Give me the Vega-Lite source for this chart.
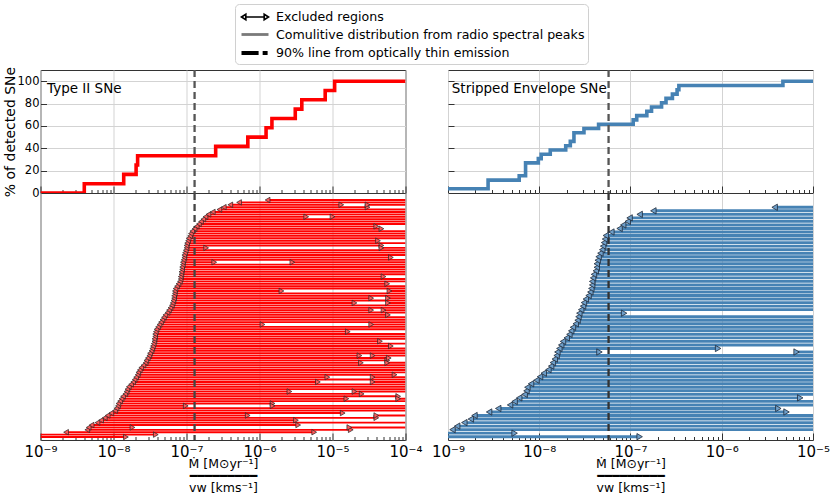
{
  "$schema": "https://vega.github.io/schema/vega-lite/v6.json",
  "padding": {"left": 2.5, "top": 3, "right": 5, "bottom": 0},
  "datasets": {
    "cumII": [
      {"x": 1e-9, "p": 0}, {"x": 3.98e-9, "p": 8.33}, {"x": 1.38e-8, "p": 16.67}, {"x": 2.04e-8, "p": 25},
      {"x": 2.14e-8, "p": 33.33}, {"x": 2.51e-7, "p": 41.67}, {"x": 6.92e-7, "p": 50}, {"x": 1.23e-6, "p": 58.33},
      {"x": 1.48e-6, "p": 66.67}, {"x": 3.09e-6, "p": 75}, {"x": 3.8e-6, "p": 83.33}, {"x": 7.94e-6, "p": 91.67},
      {"x": 1.07e-5, "p": 100}, {"x": 1e-4, "p": 100}
    ],
    "cumSE": [
      {"x": 1e-9, "p": 3.85}, {"x": 2.75e-9, "p": 11.54}, {"x": 6.03e-9, "p": 15.38}, {"x": 7.08e-9, "p": 26.92},
      {"x": 9.77e-9, "p": 30.77}, {"x": 1.05e-8, "p": 34.62}, {"x": 1.32e-8, "p": 38.46}, {"x": 1.95e-8, "p": 42.31},
      {"x": 2.19e-8, "p": 46.15}, {"x": 2.4e-8, "p": 53.85}, {"x": 3.09e-8, "p": 57.69}, {"x": 4.47e-8, "p": 61.54},
      {"x": 1.07e-7, "p": 65.38}, {"x": 1.17e-7, "p": 69.23}, {"x": 1.51e-7, "p": 73.08}, {"x": 1.7e-7, "p": 76.92},
      {"x": 2.19e-7, "p": 80.77}, {"x": 2.45e-7, "p": 84.62}, {"x": 2.88e-7, "p": 88.46}, {"x": 3.24e-7, "p": 92.31},
      {"x": 3.39e-7, "p": 96.15}, {"x": 4.68e-6, "p": 100}, {"x": 1e-5, "p": 100}
    ],
    "thin": [{"set": "II", "v": 1.29e-7}, {"set": "SE", "v": 5.75e-8}],
    "legend": [
      {"k": "Excluded regions"},
      {"k": "Comulitive distribution from radio spectral peaks"},
      {"k": "90% line from optically thin emission"}
    ],
    "rowsII": [
      {"i": 0, "s": 1e-9, "e": 1.48e-8}, {"i": 1, "s": 1e-9, "e": 3.8e-8}, {"i": 2, "s": 2.24e-9, "e": 5.62e-6},
      {"i": 3, "s": 4.37e-9, "e": 1.78e-5}, {"i": 4, "s": 4.57e-9, "e": 1.82e-8, "r": 1.7e-5}, {"i": 5, "s": 5.01e-9, "e": 3.39e-6},
      {"i": 6, "s": 6.03e-9, "e": 1e-4}, {"i": 7, "s": 6.76e-9, "e": 3.16e-6}, {"i": 8, "s": 7.59e-9, "e": 3.98e-5},
      {"i": 9, "s": 8.32e-9, "e": 6.9e-7, "r": 3.98e-5}, {"i": 10, "s": 9.33e-9, "e": 1.38e-5}, {"i": 11, "s": 1.05e-8, "e": 1e-4},
      {"i": 12, "s": 1.1e-8, "e": 1e-4}, {"i": 13, "s": 1.15e-8, "e": 9.77e-8, "r": 1.51e-6}, {"i": 14, "s": 1.17e-8, "e": 1.51e-6},
      {"i": 15, "s": 1.23e-8, "e": 1e-4}, {"i": 16, "s": 1.29e-8, "e": 1.55e-5, "r": 7.94e-5}, {"i": 17, "s": 1.35e-8, "e": 7.94e-5},
      {"i": 18, "s": 1.45e-8, "e": 2.51e-5}, {"i": 19, "s": 1.51e-8, "e": 2.57e-6, "r": 2e-5}, {"i": 20, "s": 1.55e-8, "e": 1e-4},
      {"i": 21, "s": 1.62e-8, "e": 1e-4}, {"i": 22, "s": 1.74e-8, "e": 1e-4}, {"i": 23, "s": 1.86e-8, "e": 6.31e-6, "r": 3.55e-5},
      {"i": 24, "s": 1.95e-8, "e": 1e-4}, {"i": 25, "s": 2.04e-8, "e": 8.51e-6, "r": 3.55e-5}, {"i": 26, "s": 2.14e-8, "e": 7.08e-5},
      {"i": 27, "s": 2.19e-8, "e": 1e-4}, {"i": 28, "s": 2.29e-8, "e": 1e-4}, {"i": 29, "s": 2.4e-8, "e": 1e-4},
      {"i": 30, "s": 2.57e-8, "e": 1e-4}, {"i": 31, "s": 2.75e-8, "e": 2.45e-5, "r": 5.62e-5}, {"i": 32, "s": 2.82e-8, "e": 5.62e-5},
      {"i": 33, "s": 2.95e-8, "e": 5.9e-5}, {"i": 34, "s": 3.09e-8, "e": 2.34e-5, "r": 3.55e-5}, {"i": 35, "s": 3.16e-8, "e": 1e-4},
      {"i": 36, "s": 3.31e-8, "e": 1e-4}, {"i": 37, "s": 3.39e-8, "e": 1e-4}, {"i": 38, "s": 3.47e-8, "e": 6.3e-5},
      {"i": 39, "s": 3.55e-8, "e": 1e-4}, {"i": 40, "s": 3.63e-8, "e": 4.47e-5}, {"i": 41, "s": 3.63e-8, "e": 1e-4},
      {"i": 42, "s": 3.72e-8, "e": 1e-4}, {"i": 43, "s": 3.72e-8, "e": 1e-4}, {"i": 44, "s": 3.8e-8, "e": 1.62e-5},
      {"i": 45, "s": 3.89e-8, "e": 1e-4}, {"i": 46, "s": 4.07e-8, "e": 1e-4}, {"i": 47, "s": 4.27e-8, "e": 1.1e-6, "r": 3.39e-5},
      {"i": 48, "s": 4.47e-8, "e": 1e-4}, {"i": 49, "s": 4.68e-8, "e": 1e-4}, {"i": 50, "s": 4.9e-8, "e": 1e-4},
      {"i": 51, "s": 5.13e-8, "e": 5.75e-5}, {"i": 52, "s": 5.5e-8, "e": 1e-4}, {"i": 53, "s": 5.75e-8, "e": 3.39e-5, "r": 5e-5},
      {"i": 54, "s": 6.03e-8, "e": 1e-4}, {"i": 55, "s": 6.31e-8, "e": 1e-4}, {"i": 56, "s": 6.46e-8, "e": 2e-5, "r": 5.75e-5},
      {"i": 57, "s": 6.61e-8, "e": 1e-4}, {"i": 58, "s": 6.76e-8, "e": 3.39e-5, "r": 5.75e-5}, {"i": 59, "s": 6.76e-8, "e": 1e-4},
      {"i": 60, "s": 6.92e-8, "e": 1e-4}, {"i": 61, "s": 6.92e-8, "e": 2e-6, "r": 6.03e-5}, {"i": 62, "s": 7.08e-8, "e": 1e-4},
      {"i": 63, "s": 7.41e-8, "e": 1e-4}, {"i": 64, "s": 7.76e-8, "e": 5.62e-5}, {"i": 65, "s": 8.13e-8, "e": 1e-4},
      {"i": 66, "s": 8.32e-8, "e": 1e-4}, {"i": 67, "s": 8.32e-8, "e": 5e-5}, {"i": 68, "s": 8.51e-8, "e": 1e-4},
      {"i": 69, "s": 8.51e-8, "e": 1e-4}, {"i": 70, "s": 8.71e-8, "e": 1e-4}, {"i": 71, "s": 8.71e-8, "e": 1e-4},
      {"i": 72, "s": 8.91e-8, "e": 1e-4}, {"i": 73, "s": 8.91e-8, "e": 2.4e-7, "r": 2.82e-6}, {"i": 74, "s": 9.12e-8, "e": 1e-4},
      {"i": 75, "s": 9.33e-8, "e": 6.31e-5}, {"i": 76, "s": 9.33e-8, "e": 1e-4}, {"i": 77, "s": 9.55e-8, "e": 1e-4},
      {"i": 78, "s": 9.77e-8, "e": 1e-4}, {"i": 79, "s": 1e-7, "e": 1.86e-7, "r": 4.68e-5}, {"i": 80, "s": 1e-7, "e": 4.68e-5},
      {"i": 81, "s": 1.02e-7, "e": 1e-4}, {"i": 82, "s": 1.05e-7, "e": 4.2e-5}, {"i": 83, "s": 1.07e-7, "e": 1e-4},
      {"i": 84, "s": 1.12e-7, "e": 1e-4}, {"i": 85, "s": 1.15e-7, "e": 1e-4}, {"i": 86, "s": 1.2e-7, "e": 1e-4},
      {"i": 87, "s": 1.29e-7, "e": 4.68e-5}, {"i": 88, "s": 1.38e-7, "e": 3.98e-5}, {"i": 89, "s": 1.48e-7, "e": 1e-4},
      {"i": 90, "s": 1.58e-7, "e": 1e-4}, {"i": 91, "s": 1.7e-7, "e": 1e-4}, {"i": 92, "s": 1.82e-7, "e": 4.37e-6, "r": 1e-5},
      {"i": 93, "s": 2e-7, "e": 1e-4}, {"i": 94, "s": 2.29e-7, "e": 1e-4}, {"i": 95, "s": 2.82e-7, "e": 1e-4},
      {"i": 96, "s": 3.24e-7, "e": 3.02e-5}, {"i": 97, "s": 3.98e-7, "e": 1.32e-5, "r": 3.02e-5}, {"i": 98, "s": 5.25e-7, "e": 1e-4},
      {"i": 99, "s": 1.29e-6, "e": 1e-4}
    ],
    "rowsSE": [
      {"i": 0, "s": 1e-9, "e": 1.26e-7}, {"i": 1, "s": 1e-9, "e": 5.37e-9}, {"i": 2, "s": 1.12e-9, "e": 1e-5},
      {"i": 3, "s": 1.26e-9, "e": 1e-5}, {"i": 4, "s": 1.51e-9, "e": 1e-5}, {"i": 5, "s": 1.78e-9, "e": 1e-5},
      {"i": 6, "s": 1.95e-9, "e": 1e-5}, {"i": 7, "s": 2.82e-9, "e": 5.13e-6}, {"i": 8, "s": 3.55e-9, "e": 4.17e-6},
      {"i": 9, "s": 4.79e-9, "e": 1e-5}, {"i": 10, "s": 5.37e-9, "e": 1e-5}, {"i": 11, "s": 6.03e-9, "e": 7.24e-6},
      {"i": 12, "s": 6.92e-9, "e": 1e-5}, {"i": 13, "s": 7.24e-9, "e": 1e-5}, {"i": 14, "s": 7.41e-9, "e": 1e-5},
      {"i": 15, "s": 8.13e-9, "e": 1e-5}, {"i": 16, "s": 9.33e-9, "e": 1e-5}, {"i": 17, "s": 1.02e-8, "e": 1e-5},
      {"i": 18, "s": 1.12e-8, "e": 1e-5}, {"i": 19, "s": 1.26e-8, "e": 1e-5}, {"i": 20, "s": 1.35e-8, "e": 1e-5},
      {"i": 21, "s": 1.41e-8, "e": 1e-5}, {"i": 22, "s": 1.48e-8, "e": 1e-5}, {"i": 23, "s": 1.55e-8, "e": 1e-5},
      {"i": 24, "s": 1.58e-8, "e": 4.57e-8, "r": 6.61e-6}, {"i": 25, "s": 1.66e-8, "e": 9.12e-7}, {"i": 26, "s": 1.74e-8, "e": 1e-5},
      {"i": 27, "s": 1.82e-8, "e": 1e-5}, {"i": 28, "s": 2e-8, "e": 1e-5}, {"i": 29, "s": 2.14e-8, "e": 1e-5},
      {"i": 30, "s": 2.24e-8, "e": 1e-5}, {"i": 31, "s": 2.34e-8, "e": 1e-5}, {"i": 32, "s": 2.51e-8, "e": 1e-5},
      {"i": 33, "s": 2.63e-8, "e": 1e-5}, {"i": 34, "s": 2.69e-8, "e": 1e-5}, {"i": 35, "s": 2.75e-8, "e": 8.51e-8},
      {"i": 36, "s": 2.88e-8, "e": 1e-5}, {"i": 37, "s": 3.02e-8, "e": 1e-5}, {"i": 38, "s": 3.09e-8, "e": 1e-5},
      {"i": 39, "s": 3.24e-8, "e": 1e-5}, {"i": 40, "s": 3.47e-8, "e": 1e-5}, {"i": 41, "s": 3.63e-8, "e": 1e-5},
      {"i": 42, "s": 3.72e-8, "e": 1e-5}, {"i": 43, "s": 3.8e-8, "e": 1e-5}, {"i": 44, "s": 3.8e-8, "e": 1e-5},
      {"i": 45, "s": 3.89e-8, "e": 1e-5}, {"i": 46, "s": 3.98e-8, "e": 1e-5}, {"i": 47, "s": 4.17e-8, "e": 1e-5},
      {"i": 48, "s": 4.27e-8, "e": 1e-5}, {"i": 49, "s": 4.27e-8, "e": 1e-5}, {"i": 50, "s": 4.37e-8, "e": 1e-5},
      {"i": 51, "s": 4.47e-8, "e": 1e-5}, {"i": 52, "s": 4.68e-8, "e": 1e-5}, {"i": 53, "s": 4.9e-8, "e": 1e-5},
      {"i": 54, "s": 5.01e-8, "e": 1e-5}, {"i": 55, "s": 5.13e-8, "e": 1e-5}, {"i": 56, "s": 5.25e-8, "e": 1e-5},
      {"i": 57, "s": 5.37e-8, "e": 1e-5}, {"i": 58, "s": 6.17e-8, "e": 1e-5}, {"i": 59, "s": 7.59e-8, "e": 1e-5},
      {"i": 60, "s": 8.32e-8, "e": 1e-5}, {"i": 61, "s": 9.33e-8, "e": 1e-5}, {"i": 62, "s": 9.77e-8, "e": 1e-5},
      {"i": 63, "s": 1.26e-7, "e": 1e-5}, {"i": 64, "s": 1.78e-7, "e": 1e-5}, {"i": 65, "s": 3.8e-6, "e": 1e-5}
    ]
  },
  "spacing": {"row": 0, "column": 42.5},
  "columns": 2,
  "bounds": "flush",
  "concat": [
    {
      "width": 365,
      "height": 123,
      "layer": [
        {
          "data": {"name": "cumII"},
          "mark": {"type": "line", "interpolate": "step-after", "color": "#ff0000", "strokeWidth": 3.6, "clip": true},
          "encoding": {
            "x": {
              "field": "x", "type": "quantitative",
              "scale": {"type": "log", "domain": [1e-9, 1e-4], "nice": false},
              "axis": {
                "values": [1e-9,2e-9,3e-9,4e-9,5e-9,6e-9,7e-9,8e-9,9e-9,1e-8,2e-8,3e-8,4e-8,5e-8,6e-8,7e-8,8e-8,9e-8,1e-7,2e-7,3e-7,4e-7,5e-7,6e-7,7e-7,8e-7,9e-7,1e-6,2e-6,3e-6,4e-6,5e-6,6e-6,7e-6,8e-6,9e-6,1e-5,2e-5,3e-5,4e-5,5e-5,6e-5,7e-5,8e-5,9e-5,1e-4],
                "labels": false, "title": null,
                "tickColor": "#333",
                "tickSize": {"condition": {"test": "indexof([1e-9,1e-8,1e-7,1e-6,1e-5,1e-4], datum.value) >= 0", "value": -7}, "value": -3.5},
                "grid": true, "gridColor": "#d3d3d3",
                "gridOpacity": {"condition": {"test": "indexof([1e-9,1e-8,1e-7,1e-6,1e-5,1e-4], datum.value) >= 0", "value": 1}, "value": 0}
              }
            },
            "y": {
              "field": "p", "type": "quantitative",
              "scale": {"domain": [0, 110], "nice": false},
              "axis": {
                "values": [0, 20, 40, 60, 80, 100], "title": "% of detected SNe",
                "grid": true, "gridColor": "#d3d3d3", "tickColor": "#333", "tickSize": -6,
                "labelPadding": 7.5, "labelFontSize": 11.5, "labelColor": "black", "labelOverlap": false,
                "titleFontSize": 14, "titleFontWeight": "normal", "titleColor": "black", "titlePadding": 0
              }
            }
          }
        },
        {
          "data": {"name": "thin"},
          "transform": [{"filter": "datum.set == 'II'"}],
          "mark": {"type": "rule", "color": "#555", "strokeWidth": 2.3, "strokeDash": [7, 4]},
          "encoding": {
            "x": {"field": "v", "type": "quantitative"}
          }
        },
        {
          "data": {"values": [{"t": "Type II SNe", "x": 1.23e-9, "p": 89}]},
          "mark": {"type": "text", "align": "left", "baseline": "alphabetic", "fontSize": 13.5, "color": "black"},
          "encoding": {
            "x": {"field": "x", "type": "quantitative"},
            "y": {
              "field": "p", "type": "quantitative",
              "scale": {"domain": [0, 110], "nice": false},
              "axis": {
                "values": [0, 20, 40, 60, 80, 100], "title": "% of detected SNe",
                "grid": true, "gridColor": "#d3d3d3", "tickColor": "#333", "tickSize": -6,
                "labelPadding": 7.5, "labelFontSize": 11.5, "labelColor": "black", "labelOverlap": false,
                "titleFontSize": 14, "titleFontWeight": "normal", "titleColor": "black", "titlePadding": 0
              }
            },
            "text": {"field": "t"}
          }
        },
        {
          "data": {"name": "legend"},
          "transform": [{"filter": "false"}],
          "mark": {"type": "point", "filled": false, "opacity": 1},
          "encoding": {
            "color": {
              "field": "k", "type": "nominal",
              "scale": {"domain": ["Excluded regions", "Comulitive distribution from radio spectral peaks", "90% line from optically thin emission"], "range": ["black", "#7a7a7a", "black"]},
              "legend": {
                "orient": "none", "legendX": 194.5, "legendY": -66, "title": null,
                "fillColor": "white", "strokeColor": "#d0d0d0", "cornerRadius": 4, "padding": 3,
                "labelFontSize": 12.6, "labelColor": "black", "labelLimit": 0, "labelOffset": 10,
                "symbolSize": 324, "symbolOffset": 6, "symbolOpacity": 1, "rowPadding": 0
              }
            },
            "shape": {
              "field": "k", "type": "nominal",
              "scale": {"domain": ["Excluded regions", "Comulitive distribution from radio spectral peaks", "90% line from optically thin emission"], "range": ["M-1.05,0L1.05,0M-1.5,0L-1.02,-0.3L-1.02,0.3ZM1.5,0L1.02,-0.3L1.02,0.3Z", "M-1.5,0L1.5,0", "M-1.5,0L0.4,0M0.85,0L1.4,0"]}
            },
            "strokeWidth": {
              "field": "k", "type": "nominal",
              "scale": {"domain": ["Excluded regions", "Comulitive distribution from radio spectral peaks", "90% line from optically thin emission"], "range": [1.6, 4, 3]}
            }
          }
        }
      ]
    },
    {
      "width": 365,
      "height": 123,
      "layer": [
        {
          "data": {"name": "cumSE"},
          "mark": {"type": "line", "interpolate": "step-after", "color": "#4682b4", "strokeWidth": 3.6, "clip": true},
          "encoding": {
            "x": {
              "field": "x", "type": "quantitative",
              "scale": {"type": "log", "domain": [1e-9, 1e-5], "nice": false},
              "axis": {
                "values": [1e-9,2e-9,3e-9,4e-9,5e-9,6e-9,7e-9,8e-9,9e-9,1e-8,2e-8,3e-8,4e-8,5e-8,6e-8,7e-8,8e-8,9e-8,1e-7,2e-7,3e-7,4e-7,5e-7,6e-7,7e-7,8e-7,9e-7,1e-6,2e-6,3e-6,4e-6,5e-6,6e-6,7e-6,8e-6,9e-6,1e-5],
                "labels": false, "title": null,
                "tickColor": "#333",
                "tickSize": {"condition": {"test": "indexof([1e-9,1e-8,1e-7,1e-6,1e-5], datum.value) >= 0", "value": -7}, "value": -3.5},
                "grid": true, "gridColor": "#d3d3d3",
                "gridOpacity": {"condition": {"test": "indexof([1e-9,1e-8,1e-7,1e-6,1e-5], datum.value) >= 0", "value": 1}, "value": 0}
              }
            },
            "y": {
              "field": "p", "type": "quantitative",
              "scale": {"domain": [0, 110], "nice": false},
              "axis": {
                "values": [0, 20, 40, 60, 80, 100], "title": null, "labels": false,
                "grid": true, "gridColor": "#d3d3d3", "tickColor": "#333", "tickSize": -6
              }
            }
          }
        },
        {
          "data": {"name": "thin"},
          "transform": [{"filter": "datum.set == 'SE'"}],
          "mark": {"type": "rule", "color": "#555", "strokeWidth": 2.3, "strokeDash": [7, 4]},
          "encoding": {
            "x": {"field": "v", "type": "quantitative"}
          }
        },
        {
          "data": {"values": [{"t": "Stripped Envelope SNe", "x": 1.1e-9, "p": 89}]},
          "mark": {"type": "text", "align": "left", "baseline": "alphabetic", "fontSize": 13.5, "color": "black"},
          "encoding": {
            "x": {"field": "x", "type": "quantitative"},
            "y": {
              "field": "p", "type": "quantitative",
              "scale": {"domain": [0, 110], "nice": false},
              "axis": {
                "values": [0, 20, 40, 60, 80, 100], "title": null, "labels": false,
                "grid": true, "gridColor": "#d3d3d3", "tickColor": "#333", "tickSize": -6
              }
            },
            "text": {"field": "t"}
          }
        }
      ]
    },
    {
      "width": 365,
      "height": 247,
      "data": {"name": "rowsII"},
      "layer": [
        {
          "mark": {"type": "rule", "color": "#ff0000", "strokeWidth": 1.9, "clip": true},
          "encoding": {
            "x": {
              "field": "s", "type": "quantitative",
              "scale": {"type": "log", "domain": [1e-9, 1e-4], "nice": false},
              "axis": {
                "values": [1e-9,2e-9,3e-9,4e-9,5e-9,6e-9,7e-9,8e-9,9e-9,1e-8,2e-8,3e-8,4e-8,5e-8,6e-8,7e-8,8e-8,9e-8,1e-7,2e-7,3e-7,4e-7,5e-7,6e-7,7e-7,8e-7,9e-7,1e-6,2e-6,3e-6,4e-6,5e-6,6e-6,7e-6,8e-6,9e-6,1e-5,2e-5,3e-5,4e-5,5e-5,6e-5,7e-5,8e-5,9e-5,1e-4],
                "labelExpr": "datum.value == 1e-9 ? '10⁻⁹' : datum.value == 1e-8 ? '10⁻⁸' : datum.value == 1e-7 ? '10⁻⁷' : datum.value == 1e-6 ? '10⁻⁶' : datum.value == 1e-5 ? '10⁻⁵' : datum.value == 1e-4 ? '10⁻⁴' : ''",
                "labelFlush": false, "labelOverlap": false, "labelFontSize": 15, "labelColor": "black", "labelPadding": 11,
                "tickColor": "#333",
                "tickSize": {"condition": {"test": "indexof([1e-9,1e-8,1e-7,1e-6,1e-5,1e-4], datum.value) >= 0", "value": -7}, "value": -3.5},
                "grid": true, "gridColor": "#d3d3d3",
                "gridOpacity": {"condition": {"test": "indexof([1e-9,1e-8,1e-7,1e-6,1e-5,1e-4], datum.value) >= 0", "value": 1}, "value": 0},
                "title": ["Ṁ [M⊙yr⁻¹]", "━━━━━━━━━", "vw [kms⁻¹]"],
                "titleFontSize": 12.5, "titleFontWeight": "normal", "titleColor": "black", "titlePadding": -5, "titleLineHeight": 12
              }
            },
            "x2": {"field": "e"},
            "y": {"field": "i", "type": "quantitative", "scale": {"domain": [-1.25, 101.92], "nice": false}, "axis": null}
          }
        },
        {
          "transform": [{"filter": "isValid(datum.r)"}],
          "mark": {"type": "rule", "color": "#ff0000", "strokeWidth": 1.9, "clip": true},
          "encoding": {
            "x": {"field": "r", "type": "quantitative"},
            "x2": {"datum": 1e-4},
            "y": {"field": "i", "type": "quantitative", "axis": null}
          }
        },
        {
          "data": {"name": "thin"},
          "transform": [{"filter": "datum.set == 'II'"}],
          "mark": {"type": "rule", "color": "#444", "strokeWidth": 2.3, "strokeDash": [7, 4]},
          "encoding": {
            "x": {"field": "v", "type": "quantitative"}
          }
        },
        {
          "transform": [{"filter": "datum.s > 1e-9"}],
          "mark": {"type": "point", "shape": "triangle-left", "filled": true, "size": 30, "fill": "#ff5a5a", "stroke": "#222", "strokeWidth": 0.7, "opacity": 1, "clip": true},
          "encoding": {
            "x": {"field": "s", "type": "quantitative"},
            "y": {"field": "i", "type": "quantitative", "axis": null}
          }
        },
        {
          "transform": [{"filter": "datum.e < 1e-4"}],
          "mark": {"type": "point", "shape": "triangle-right", "filled": true, "size": 30, "fill": "#ff5a5a", "stroke": "#222", "strokeWidth": 0.7, "opacity": 1, "clip": true},
          "encoding": {
            "x": {"field": "e", "type": "quantitative"},
            "y": {"field": "i", "type": "quantitative", "axis": null}
          }
        },
        {
          "transform": [{"filter": "isValid(datum.r)"}],
          "mark": {"type": "point", "shape": "triangle-right", "filled": true, "size": 30, "fill": "#ff5a5a", "stroke": "#222", "strokeWidth": 0.7, "opacity": 1, "clip": true},
          "encoding": {
            "x": {"field": "r", "type": "quantitative"},
            "y": {"field": "i", "type": "quantitative", "axis": null}
          }
        }
      ]
    },
    {
      "width": 365,
      "height": 247,
      "data": {"name": "rowsSE"},
      "layer": [
        {
          "mark": {"type": "rule", "color": "#4682b4", "strokeWidth": 2.9, "clip": true},
          "encoding": {
            "x": {
              "field": "s", "type": "quantitative",
              "scale": {"type": "log", "domain": [1e-9, 1e-5], "nice": false},
              "axis": {
                "values": [1e-9,2e-9,3e-9,4e-9,5e-9,6e-9,7e-9,8e-9,9e-9,1e-8,2e-8,3e-8,4e-8,5e-8,6e-8,7e-8,8e-8,9e-8,1e-7,2e-7,3e-7,4e-7,5e-7,6e-7,7e-7,8e-7,9e-7,1e-6,2e-6,3e-6,4e-6,5e-6,6e-6,7e-6,8e-6,9e-6,1e-5],
                "labelExpr": "datum.value == 1e-9 ? '10⁻⁹' : datum.value == 1e-8 ? '10⁻⁸' : datum.value == 1e-7 ? '10⁻⁷' : datum.value == 1e-6 ? '10⁻⁶' : datum.value == 1e-5 ? '10⁻⁵' : ''",
                "labelFlush": false, "labelOverlap": false, "labelFontSize": 15, "labelColor": "black", "labelPadding": 11,
                "tickColor": "#333",
                "tickSize": {"condition": {"test": "indexof([1e-9,1e-8,1e-7,1e-6,1e-5], datum.value) >= 0", "value": -7}, "value": -3.5},
                "grid": true, "gridColor": "#d3d3d3",
                "gridOpacity": {"condition": {"test": "indexof([1e-9,1e-8,1e-7,1e-6,1e-5], datum.value) >= 0", "value": 1}, "value": 0},
                "title": ["Ṁ [M⊙yr⁻¹]", "━━━━━━━━━", "vw [kms⁻¹]"],
                "titleFontSize": 12.5, "titleFontWeight": "normal", "titleColor": "black", "titlePadding": -5, "titleLineHeight": 12
              }
            },
            "x2": {"field": "e"},
            "y": {"field": "i", "type": "quantitative", "scale": {"domain": [-0.935, 69.05], "nice": false}, "axis": null}
          }
        },
        {
          "transform": [{"filter": "isValid(datum.r)"}],
          "mark": {"type": "rule", "color": "#4682b4", "strokeWidth": 2.9, "clip": true},
          "encoding": {
            "x": {"field": "r", "type": "quantitative"},
            "x2": {"datum": 1e-5},
            "y": {"field": "i", "type": "quantitative", "axis": null}
          }
        },
        {
          "data": {"name": "thin"},
          "transform": [{"filter": "datum.set == 'SE'"}],
          "mark": {"type": "rule", "color": "#333", "strokeWidth": 2.3, "strokeDash": [7, 4]},
          "encoding": {
            "x": {"field": "v", "type": "quantitative"}
          }
        },
        {
          "transform": [{"filter": "datum.s > 1e-9"}],
          "mark": {"type": "point", "shape": "triangle-left", "filled": true, "size": 40, "fill": "#6f9fca", "stroke": "#1e2a38", "strokeWidth": 0.8, "opacity": 1, "clip": true},
          "encoding": {
            "x": {"field": "s", "type": "quantitative"},
            "y": {"field": "i", "type": "quantitative", "axis": null}
          }
        },
        {
          "transform": [{"filter": "datum.e < 1e-5"}],
          "mark": {"type": "point", "shape": "triangle-right", "filled": true, "size": 40, "fill": "#6f9fca", "stroke": "#1e2a38", "strokeWidth": 0.8, "opacity": 1, "clip": true},
          "encoding": {
            "x": {"field": "e", "type": "quantitative"},
            "y": {"field": "i", "type": "quantitative", "axis": null}
          }
        },
        {
          "transform": [{"filter": "isValid(datum.r)"}],
          "mark": {"type": "point", "shape": "triangle-right", "filled": true, "size": 40, "fill": "#6f9fca", "stroke": "#1e2a38", "strokeWidth": 0.8, "opacity": 1, "clip": true},
          "encoding": {
            "x": {"field": "r", "type": "quantitative"},
            "y": {"field": "i", "type": "quantitative", "axis": null}
          }
        }
      ]
    }
  ],
  "config": {
    "font": "DejaVu Sans",
    "view": {"stroke": "#333", "strokeWidth": 1},
    "axis": {"domain": false, "labelFont": "DejaVu Sans", "titleFont": "DejaVu Sans"},
    "legend": {"labelFont": "DejaVu Sans"}
  }
}
